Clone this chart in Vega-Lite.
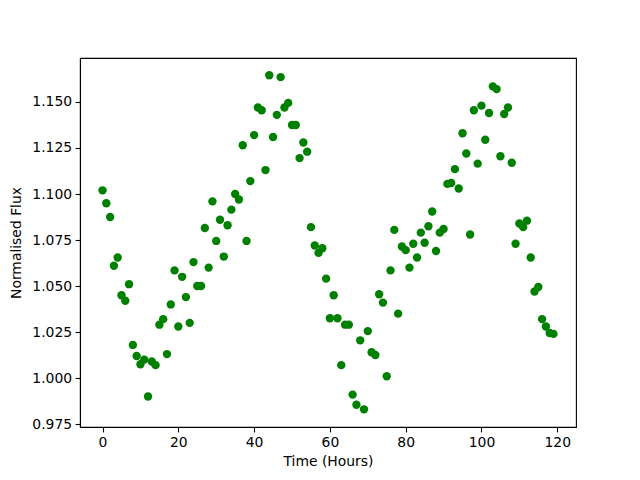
{
  "$schema": "https://vega.github.io/schema/vega-lite/v6.json",
  "width": 496,
  "height": 369,
  "autosize": {"type": "none"},
  "padding": {"left": 80, "top": 58, "right": 64, "bottom": 53},
  "background": "white",
  "config": {
    "view": {"stroke": "black", "strokeWidth": 1.1},
    "axis": {
      "grid": false,
      "domainColor": "black",
      "domainWidth": 1.1,
      "tickColor": "black",
      "tickWidth": 1.1,
      "tickSize": 4.9,
      "labelPadding": 3.5,
      "labelFont": "DejaVu Sans",
      "labelFontSize": 13.9,
      "labelColor": "black",
      "titleFont": "DejaVu Sans",
      "titleFontSize": 13.9,
      "titleFontWeight": "normal",
      "titleColor": "black"
    }
  },
  "data": {
    "values": [
      {"t":0,"f":1.102},{"t":1,"f":1.095},{"t":2,"f":1.0875},{"t":3,"f":1.061},{"t":4,"f":1.0655},
      {"t":5,"f":1.045},{"t":6,"f":1.042},{"t":7,"f":1.051},{"t":8,"f":1.018},{"t":9,"f":1.012},
      {"t":10,"f":1.0075},{"t":11,"f":1.010},{"t":12,"f":0.990},{"t":13,"f":1.009},{"t":14,"f":1.007},
      {"t":15,"f":1.029},{"t":16,"f":1.032},{"t":17,"f":1.013},{"t":18,"f":1.040},{"t":19,"f":1.0585},
      {"t":20,"f":1.028},{"t":21,"f":1.055},{"t":22,"f":1.044},{"t":23,"f":1.030},{"t":24,"f":1.063},
      {"t":25,"f":1.050},{"t":26,"f":1.050},{"t":27,"f":1.0815},{"t":28,"f":1.060},{"t":29,"f":1.096},
      {"t":30,"f":1.0745},{"t":31,"f":1.086},{"t":32,"f":1.066},{"t":33,"f":1.083},{"t":34,"f":1.0915},
      {"t":35,"f":1.100},{"t":36,"f":1.097},{"t":37,"f":1.1265},{"t":38,"f":1.0745},{"t":39,"f":1.107},
      {"t":40,"f":1.132},{"t":41,"f":1.147},{"t":42,"f":1.1455},{"t":43,"f":1.113},{"t":44,"f":1.1645},
      {"t":45,"f":1.131},{"t":46,"f":1.143},{"t":47,"f":1.1635},{"t":48,"f":1.147},{"t":49,"f":1.1495},
      {"t":50,"f":1.1375},{"t":51,"f":1.1375},{"t":52,"f":1.1195},{"t":53,"f":1.128},{"t":54,"f":1.123},
      {"t":55,"f":1.082},{"t":56,"f":1.072},{"t":57,"f":1.068},{"t":58,"f":1.0705},{"t":59,"f":1.054},
      {"t":60,"f":1.0325},{"t":61,"f":1.045},{"t":62,"f":1.0325},{"t":63,"f":1.007},{"t":64,"f":1.029},
      {"t":65,"f":1.029},{"t":66,"f":0.991},{"t":67,"f":0.9855},{"t":68,"f":1.0205},{"t":69,"f":0.983},
      {"t":70,"f":1.0255},{"t":71,"f":1.014},{"t":72,"f":1.0125},{"t":73,"f":1.0455},{"t":74,"f":1.041},
      {"t":75,"f":1.001},{"t":76,"f":1.0585},{"t":77,"f":1.0805},{"t":78,"f":1.035},{"t":79,"f":1.0715},
      {"t":80,"f":1.0695},{"t":81,"f":1.060},{"t":82,"f":1.073},{"t":83,"f":1.0655},{"t":84,"f":1.079},
      {"t":85,"f":1.0735},{"t":86,"f":1.0825},{"t":87,"f":1.0905},{"t":88,"f":1.069},{"t":89,"f":1.079},
      {"t":90,"f":1.081},{"t":91,"f":1.1055},{"t":92,"f":1.106},{"t":93,"f":1.1135},{"t":94,"f":1.103},
      {"t":95,"f":1.133},{"t":96,"f":1.122},{"t":97,"f":1.078},{"t":98,"f":1.1455},{"t":99,"f":1.1165},
      {"t":100,"f":1.148},{"t":101,"f":1.1295},{"t":102,"f":1.144},{"t":103,"f":1.1585},{"t":104,"f":1.157},
      {"t":105,"f":1.1205},{"t":106,"f":1.1435},{"t":107,"f":1.147},{"t":108,"f":1.117},{"t":109,"f":1.073},
      {"t":110,"f":1.084},{"t":111,"f":1.082},{"t":112,"f":1.0855},{"t":113,"f":1.0655},{"t":114,"f":1.047},
      {"t":115,"f":1.0495},{"t":116,"f":1.032},{"t":117,"f":1.028},{"t":118,"f":1.0245},{"t":119,"f":1.024}
    ]
  },
  "mark": {"type": "point", "filled": true, "color": "#008000", "opacity": 1, "size": 70},
  "encoding": {
    "x": {
      "field": "t", "type": "quantitative", "title": "Time (Hours)",
      "scale": {"domain": [-5.95, 124.95], "nice": false, "zero": false},
      "axis": {"values": [0, 20, 40, 60, 80, 100, 120], "format": "d", "titlePadding": 5}
    },
    "y": {
      "field": "f", "type": "quantitative", "title": "Normalised Flux",
      "scale": {"domain": [0.9734, 1.1739], "nice": false, "zero": false},
      "axis": {"values": [0.975, 1.0, 1.025, 1.05, 1.075, 1.1, 1.125, 1.15], "format": ".3f", "titlePadding": 8}
    }
  }
}
